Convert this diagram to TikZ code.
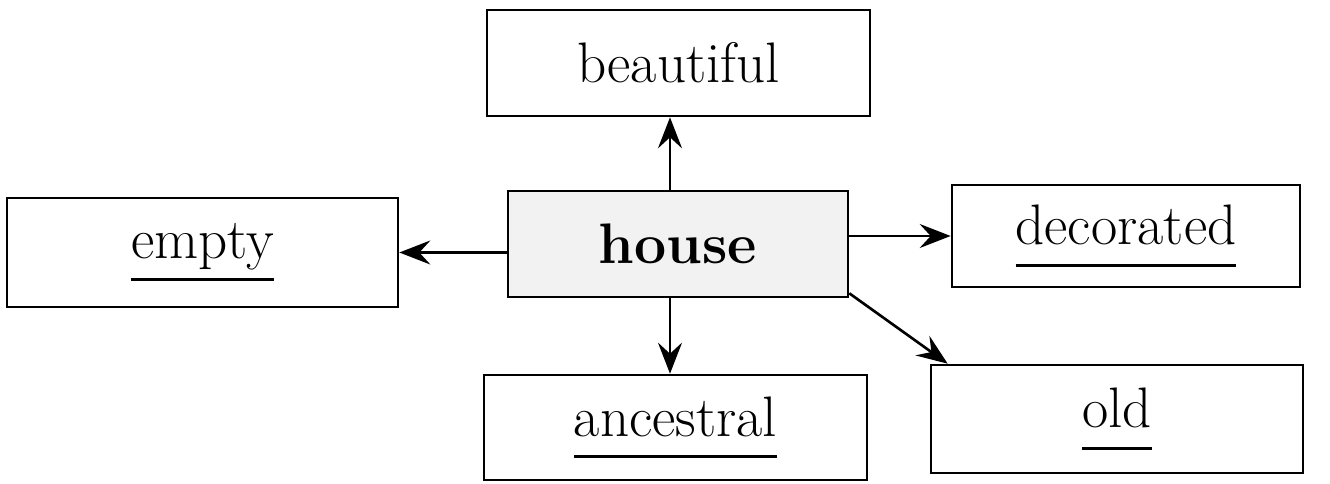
\documentclass[tikz,border=0pt]{standalone}
\usepackage{fontspec}
\usetikzlibrary{arrows.meta}

\newcommand{\keyword}[1]{\vtop{\hbox{\raisebox{0pt}[\height][0pt]{#1}}\kern0.38cm\hrule height 1.8pt}}

\begin{document}
\begin{tikzpicture}[
    word/.style={draw, line width=1.5pt, inner sep=0pt, font=\fontsize{32.5}{38}\selectfont},
    link/.style={line width=1.5pt, -{Stealth[length=0.62cm, width=0.48cm, inset=0.22cm]}}
]
            \useasboundingbox (0, 0) rectangle (26.6, 9.66);
            \node[word, minimum width=7.66cm, minimum height=2.12cm] (beautiful) at (13.57, 8.40) {beautiful};
            \node[word, fill=gray!10, minimum width=6.8cm, minimum height=2.12cm] (house) at (13.56, 4.78) {\bfseries house};
            \node[word, minimum width=7.82cm, minimum height=2.18cm] (empty) at (4.05, 4.61) {\keyword{empty}};
            \node[word, minimum width=6.96cm, minimum height=2.04cm] (decorated) at (22.52, 4.94) {\keyword{decorated}};
            \node[word, minimum width=7.66cm, minimum height=2.1cm] (ancestral) at (13.51, 1.11) {\keyword{ancestral}};
            \node[word, minimum width=7.44cm, minimum height=2.16cm] (old) at (22.34, 1.28) {\keyword{old}};
            \draw[link] ([xshift=-0.16cm]house.north) -- ([xshift=-0.16cm]house.north |- beautiful.south);
            \draw[link] (house.west |- empty.east) -- (empty.east);
            \draw[link] (house.east |- decorated.west) -- (decorated.west);
            \draw[link] ([xshift=-0.16cm]house.south) -- ([xshift=-0.16cm]house.south |- ancestral.north);
            \draw[link] ([yshift=0.1cm]house.south east) -- ([xshift=0.36cm]old.north west);
        \end{tikzpicture}
\end{document}
